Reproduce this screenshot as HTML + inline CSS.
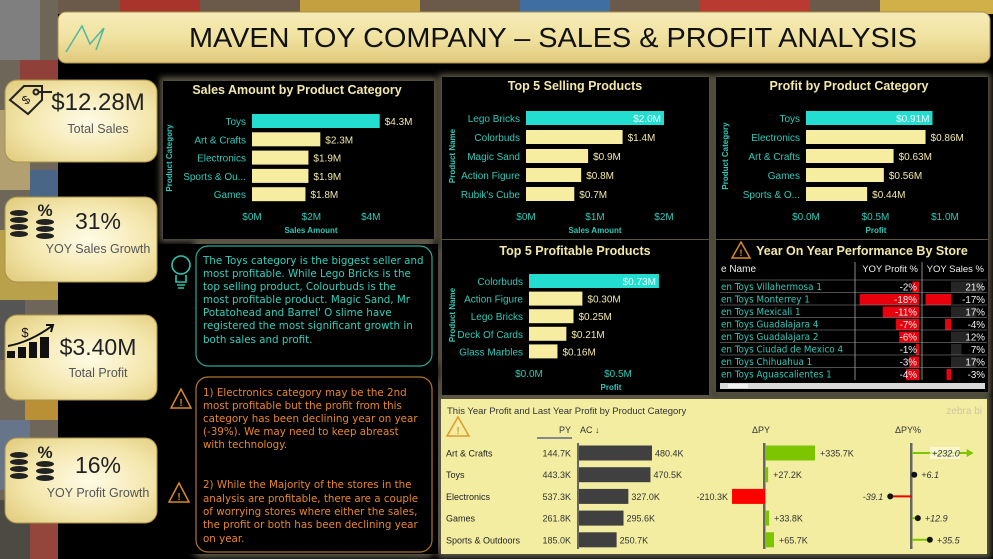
<!DOCTYPE html>
<html><head><meta charset="utf-8"><style>
html,body{margin:0;padding:0;background:#000;width:993px;height:559px;overflow:hidden}
svg{display:block;font-family:"Liberation Sans Narrow","Liberation Sans",sans-serif}
.t{font-family:"DejaVu Sans",sans-serif;font-size:10.3px}
</style></head><body>
<svg id="s" width="993" height="559" viewBox="0 0 993 559" xmlns="http://www.w3.org/2000/svg">
<defs>
<radialGradient id="card" cx="0.55" cy="0.5" r="0.7"><stop offset="0" stop-color="#fffbe6"/><stop offset="0.6" stop-color="#f3e6ab"/><stop offset="1" stop-color="#e2cd80"/></radialGradient>
<linearGradient id="hdr" x1="0" y1="0" x2="0" y2="1"><stop offset="0" stop-color="#f6ecb8"/><stop offset="0.5" stop-color="#f0e2a0"/><stop offset="1" stop-color="#e0c97c"/></linearGradient>
<filter id="glow" x="-10%" y="-10%" width="120%" height="120%"><feGaussianBlur stdDeviation="3"/></filter>
</defs>
<g>
<rect x="0" y="0" width="993" height="14" fill="#6b5a4a"/>
<rect x="0" y="0" width="58" height="559" fill="#6f665a"/>
<rect x="0" y="0" width="40" height="60" fill="#7f7f7f"/><rect x="20" y="60" width="38" height="50" fill="#8f4038"/>
<rect x="0" y="110" width="30" height="80" fill="#b3a070"/><rect x="30" y="170" width="28" height="60" fill="#4a6686"/>
<rect x="0" y="230" width="58" height="70" fill="#b9a04a"/><rect x="0" y="300" width="25" height="60" fill="#555"/>
<rect x="25" y="340" width="33" height="80" fill="#b99035"/><rect x="0" y="420" width="30" height="70" fill="#66758a"/>
<rect x="30" y="480" width="28" height="79" fill="#94463c"/><rect x="0" y="500" width="30" height="59" fill="#4d4a44"/>
<rect x="120" y="0" width="80" height="14" fill="#a8342c"/><rect x="300" y="0" width="120" height="14" fill="#c4a040"/>
<rect x="520" y="0" width="90" height="14" fill="#3f6fa0"/><rect x="700" y="0" width="110" height="14" fill="#b83a30"/>
<rect x="880" y="0" width="113" height="14" fill="#d1b04a"/>
</g>
<g>
<rect x="58" y="12" width="932" height="51" rx="8" fill="url(#hdr)" stroke="#a8924e"/>
<path d="M66 52 L82 26 L90 44 L104 28 L96 50" fill="none" stroke="#4fb8a0" stroke-width="1.5"/>
<text x="553" y="47" text-anchor="middle" font-family="Liberation Sans, sans-serif" font-size="28" fill="#111" textLength="728" lengthAdjust="spacingAndGlyphs">MAVEN TOY COMPANY – SALES &amp; PROFIT ANALYSIS</text>
</g>
<g filter="url(#glow)" fill="#5a5545">
<rect x="160" y="77" width="277" height="165"/><rect x="439" y="74" width="273" height="168"/><rect x="713" y="74" width="278" height="168"/>
<rect x="439" y="237" width="273" height="161"/><rect x="713" y="237" width="278" height="158"/><rect x="438" y="396" width="553" height="162"/>
<rect x="190" y="240" width="248" height="132" rx="14"/><rect x="190" y="371" width="248" height="187" rx="14"/>
</g>
<g fill="#000">
<rect x="163" y="81" width="271" height="158"/>
<rect x="442" y="77" width="267" height="162"/>
<rect x="716" y="77" width="272" height="162"/>
<rect x="442" y="240" width="267" height="155"/>
<rect x="716" y="240" width="272" height="152"/>
<rect x="160" y="244" width="278" height="310"/>
</g>
<g>
<rect x="5" y="80" width="152" height="82" rx="12" fill="url(#card)" stroke="#a89248"/>
<g fill="none" stroke="#222" stroke-width="2"><path d="M10 100 L24 86 L42 86 L42 100 L28 114 Z"/><circle cx="36" cy="92" r="2.5"/><path d="M38 92 L52 92"/></g>
<text x="26" y="104" font-size="12" fill="#222" text-anchor="middle" transform="rotate(-40 26 100)">$</text>
<text x="98" y="110" text-anchor="middle" font-size="24" fill="#222">$12.28M</text>
<text x="98" y="133" text-anchor="middle" font-size="12.5" fill="#555">Total Sales</text>
</g>
<g>
<rect x="5" y="197" width="152" height="85" rx="12" fill="url(#card)" stroke="#a89248"/>
<g fill="#222"><ellipse cx="19" cy="213" rx="9" ry="3"/><ellipse cx="19" cy="220" rx="9" ry="3"/><ellipse cx="19" cy="227" rx="9" ry="3"/><ellipse cx="19" cy="234" rx="9" ry="3"/><ellipse cx="45" cy="222" rx="9" ry="3"/><ellipse cx="45" cy="229" rx="9" ry="3"/><ellipse cx="45" cy="236" rx="9" ry="3"/></g>
<text x="45" y="216" text-anchor="middle" font-size="17" font-weight="bold" fill="#222">%</text>
<text x="98" y="229" text-anchor="middle" font-size="23" fill="#222">31%</text>
<text x="98" y="253" text-anchor="middle" font-size="12.5" fill="#555">YOY Sales Growth</text>
</g>
<g>
<rect x="5" y="315" width="152" height="85" rx="12" fill="url(#card)" stroke="#a89248"/>
<g fill="#111"><rect x="7" y="351" width="8" height="7"/><rect x="18" y="347" width="8" height="11"/><rect x="29" y="342" width="8" height="16"/><rect x="40" y="337" width="9" height="21"/></g>
<path d="M8 346 Q30 342 52 326" fill="none" stroke="#111" stroke-width="2"/><path d="M46 325 L53 325 L51 332" fill="none" stroke="#111" stroke-width="2"/>
<text x="25" y="337" text-anchor="middle" font-size="13" fill="#111">$</text>
<text x="98" y="355" text-anchor="middle" font-size="23" fill="#222">$3.40M</text>
<text x="98" y="377" text-anchor="middle" font-size="12.5" fill="#555">Total Profit</text>
</g>
<g>
<rect x="5" y="438" width="152" height="85" rx="12" fill="url(#card)" stroke="#a89248"/>
<g fill="#222"><ellipse cx="19" cy="455" rx="9" ry="3"/><ellipse cx="19" cy="462" rx="9" ry="3"/><ellipse cx="19" cy="469" rx="9" ry="3"/><ellipse cx="19" cy="476" rx="9" ry="3"/><ellipse cx="45" cy="464" rx="9" ry="3"/><ellipse cx="45" cy="471" rx="9" ry="3"/><ellipse cx="45" cy="478" rx="9" ry="3"/></g>
<text x="45" y="458" text-anchor="middle" font-size="17" font-weight="bold" fill="#222">%</text>
<text x="98" y="473" text-anchor="middle" font-size="23" fill="#222">16%</text>
<text x="98" y="497" text-anchor="middle" font-size="12.5" fill="#555">YOY Profit Growth</text>
</g>
<g>
<rect x="196" y="246" width="236" height="120" rx="12" fill="#000" stroke="#2aa898" stroke-width="1.2"/>
<g fill="none" stroke="#2cc4b0" stroke-width="1.6"><circle cx="181" cy="265" r="9"/><path d="M176 275 L176 282 L186 282 L186 275"/><path d="M177 285 L185 285 M178 288 L184 288"/></g>
<g class="t" fill="#2fd0bd">
<text x="203" y="264">The Toys category is the biggest seller and</text>
<text x="203" y="277">most profitable. While Lego Bricks is the</text>
<text x="203" y="290">top selling product, Colourbuds is the</text>
<text x="203" y="303">most profitable product. Magic Sand, Mr</text>
<text x="203" y="316">Potatohead and Barrel' O slime have</text>
<text x="203" y="329">registered the most significant growth in</text>
<text x="203" y="343">both sales and profit.</text>
</g></g>
<g>
<rect x="196" y="377" width="236" height="175" rx="12" fill="#000" stroke="#b0742a" stroke-width="1.2"/>
<g fill="none" stroke="#d88b24" stroke-width="1.5"><path d="M181 389 L191 408 L171 408 Z"/><path d="M179 483 L189 502 L169 502 Z"/></g>
<g fill="#d88b24" font-size="10" font-weight="bold" text-anchor="middle"><text x="181" y="406">!</text><text x="179" y="500">!</text></g>
<g class="t" fill="#e8862a">
<text x="203" y="396">1) Electronics category may be the 2nd</text>
<text x="203" y="409">most profitable but the profit from this</text>
<text x="203" y="422">category has been declining year on year</text>
<text x="203" y="435">(-39%). We may need to keep abreast</text>
<text x="203" y="448">with technology.</text>
<text x="203" y="488">2) While the Majority of the stores in the</text>
<text x="203" y="502">analysis are profitable, there are a couple</text>
<text x="203" y="515">of worrying stores where either the sales,</text>
<text x="203" y="528">the profit or both has been declining year</text>
<text x="203" y="542">on year.</text>
</g></g>
<g font-weight="bold" font-size="12.5" fill="#f2e8a8" text-anchor="middle" font-family="Liberation Sans, sans-serif">
<text x="297" y="94">Sales Amount by Product Category</text>
<text x="575" y="90">Top 5 Selling Products</text>
<text x="849" y="90">Profit by Product Category</text>
<text x="575" y="255">Top 5 Profitable Products</text>
<text x="862" y="255">Year On Year Performance By Store</text>
</g>
<g><path d="M741 242 L750 258 L732 258 Z" fill="none" stroke="#d88b24" stroke-width="1.5"/><text x="741" y="256" text-anchor="middle" font-size="9" font-weight="bold" fill="#d88b24">!</text></g>
<g id="charts"></g>
<g>
<rect x="441" y="399" width="546" height="155" fill="#f3eda2"/>
<text x="447" y="414" font-size="9.5" font-family="Liberation Sans, sans-serif" fill="#333">This Year Profit and Last Year Profit by Product Category</text>
<text x="982" y="414" text-anchor="end" font-size="10" fill="#ccc6a0">zebra bi</text>
<path d="M458 417 L469 436 L447 436 Z" fill="none" stroke="#e09a30" stroke-width="1.5"/><text x="458" y="434" text-anchor="middle" font-size="10" font-weight="bold" fill="#e09a30">!</text>
<g font-size="9" fill="#333" font-family="Liberation Sans, sans-serif"><text x="571" y="433" text-anchor="end">PY</text><text x="580" y="433">AC ↓</text><text x="752" y="433">ΔPY</text><text x="895" y="433">ΔPY%</text></g>
<rect x="537" y="437" width="35" height="2" fill="#888"/>
</g>
<g id="zebra"></g>
</svg>
<script>
const NS='http://www.w3.org/2000/svg';
const salesCats=['Toys','Art & Crafts','Electronics','Sports & Ou...','Games'];
const salesVals=[4.3,2.3,1.9,1.9,1.8];
const salesTicks=[0,2,4];
const topSellNames=['Lego Bricks','Colorbuds','Magic Sand','Action Figure','Rubik\'s Cube'];
const topSellVals=[2.0,1.4,0.9,0.8,0.7];
const topSellTicks=[0,1,2];
const profitCats=['Toys','Electronics','Art & Crafts','Games','Sports & O...'];
const profitVals=[0.91,0.86,0.63,0.56,0.44];
const profitTicks=[0,0.5,1.0];
const topProfNames=['Colorbuds','Action Figure','Lego Bricks','Deck Of Cards','Glass Marbles'];
const topProfVals=[0.73,0.30,0.25,0.21,0.16];
const topProfTicks=[0,0.5];
const storeNames=['en Toys Villahermosa 1','en Toys Monterrey 1','en Toys Mexicali 1','en Toys Guadalajara 4','en Toys Guadalajara 2','en Toys Ciudad de Mexico 4','en Toys Chihuahua 1','en Toys Aguascalientes 1'];
const storeProfitPct=[-2,-18,-11,-7,-6,-1,-3,-4];
const storeSalesPct=[21,-17,17,-4,12,7,17,-3];
const zCats=['Art & Crafts','Toys','Electronics','Games','Sports & Outdoors'];
const zPY=[144.7,443.3,537.3,261.8,185.0];
const zAC=[480.4,470.5,327.0,295.6,250.7];

function mk(tag,attrs,parent,txt){const e=document.createElementNS(NS,tag);for(const k in attrs)e.setAttribute(k,attrs[k]);if(txt!==undefined)e.textContent=txt;parent.appendChild(e);return e;}
const C=document.getElementById('charts');
function hbar(o){
  const g=mk('g',{},C);
  
  
  const sx=v=>o.x0+v*o.k;
  const sy=i=>o.y0+i*o.pitch;
  o.cats.forEach((c,i)=>{
    const yc=sy(i);
    const lb=mk('text',{x:o.x0-6,y:yc+4,'text-anchor':'end','font-size':10,fill:'#2fc9b8'},g,c);
    
    
    const w=sx(o.vals[i])-o.x0;
    const b=mk('rect',{x:o.x0,y:yc-7,width:w,height:14,fill:i===0?'#22ddd0':'#f6eda0'},g);
    
    
    const txt=o.fmt(o.vals[i]);
    if(i===0&&o.inside){mk('text',{x:sx(o.vals[i])-3,y:yc+4,'text-anchor':'end','font-size':10,fill:'#eafffc'},g,txt);}
    else mk('text',{x:sx(o.vals[i])+5,y:yc+4,'font-size':10,fill:'#f2e8a8'},g,txt);
  });
  o.ticks.forEach(t=>{const e=mk('text',{x:sx(t),y:o.ty,'text-anchor':'middle','font-size':10,fill:'#2fc9b8'},g,o.tfmt(t));
    
    });
  const at=mk('text',{x:o.axX,y:o.ty+13,'text-anchor':'middle','font-size':8,'font-weight':'bold',fill:'#2fc9b8'},g,o.xTitle);
  
  
  const yt=mk('text',{x:o.yTx,y:o.yTy,'text-anchor':'middle','font-size':8,'font-weight':'bold',fill:'#2fc9b8',transform:`rotate(-90 ${o.yTx} ${o.yTy})`},g,o.yTitle);
  
  
}
hbar({name:'sales-category-chart',cats:salesCats,vals:salesVals,ticks:salesTicks,x0:252,k:29.7,y0:121,pitch:18.3,ty:220,axX:311,xTitle:'Sales Amount',yTitle:'Product Category',yTx:172,yTy:158,fmt:v=>'$'+v.toFixed(1)+'M',tfmt:t=>'$'+t+'M'});
hbar({name:'top-selling-chart',cats:topSellNames,vals:topSellVals,ticks:topSellTicks,x0:526,k:69,y0:118,pitch:19,ty:220,axX:595,xTitle:'Sales Amount',yTitle:'Product Name',yTx:455,yTy:156,inside:true,fmt:v=>'$'+v.toFixed(1)+'M',tfmt:t=>'$'+t+'M'});
hbar({name:'profit-category-chart',cats:profitCats,vals:profitVals,ticks:profitTicks,x0:806,k:139,y0:118,pitch:19,ty:220,axX:876,xTitle:'Profit',yTitle:'Product Category',yTx:728,yTy:156,inside:true,fmt:v=>'$'+v.toFixed(2)+'M',tfmt:t=>'$'+t.toFixed(1)+'M'});
hbar({name:'top-profitable-chart',cats:topProfNames,vals:topProfVals,ticks:topProfTicks,x0:529,k:178,y0:281,pitch:17.6,ty:377,axX:611,xTitle:'Profit',yTitle:'Product Name',yTx:455,yTy:315,inside:true,fmt:v=>'$'+v.toFixed(2)+'M',tfmt:t=>'$'+t.toFixed(1)+'M'});

(function(){
  const g=mk('g',{},C);
  
  
  mk('text',{x:721,y:272,'font-size':10,fill:'#eee','font-family':'Liberation Sans, sans-serif'},g,'e Name');
  mk('text',{x:918,y:272,'text-anchor':'end','font-size':9.5,fill:'#eee','font-family':'Liberation Sans, sans-serif'},g,'YOY Profit %');
  mk('text',{x:984,y:272,'text-anchor':'end','font-size':9.5,fill:'#eee','font-family':'Liberation Sans, sans-serif'},g,'YOY Sales %');
  mk('line',{x1:855,y1:262,x2:855,y2:380,stroke:'#888'},g);
  mk('line',{x1:922,y1:262,x2:922,y2:380,stroke:'#888'},g);
  const px=v=>919+v*3.3, sx=v=>951+v*1.5;
  storeNames.forEach((n,i)=>{
    const y=281+i*12.5;
    mk('line',{x1:720,y1:y-1,x2:987,y2:y-1,stroke:'#999','stroke-width':0.6},g);
    const nm=mk('text',{x:721,y:y+9,'font-size':9.8,fill:'#2fc9b8','font-family':'DejaVu Sans Condensed, DejaVu Sans, sans-serif'},g,n);
    
    
    const p=storeProfitPct[i];
    const pb=mk('rect',{x:Math.min(px(p),919),y:y+0.5,width:Math.abs(px(p)-919),height:11,fill:'#e8000c'},g);
    
    
    mk('text',{x:917,y:y+9.5,'text-anchor':'end','font-size':9.8,fill:'#f2f2f2','font-family':'Liberation Sans, sans-serif'},g,p+'%');
    const s=storeSalesPct[i];
    const sb=mk('rect',{x:Math.min(sx(s),951),y:y+0.5,width:Math.abs(sx(s)-951),height:11,fill:s<0?'#e8000c':'#262626'},g);
    
    
    mk('text',{x:985,y:y+9.5,'text-anchor':'end','font-size':9.8,fill:'#f2f2f2','font-family':'Liberation Sans, sans-serif'},g,s+'%');
  });
  const sb=mk('rect',{x:720,y:383,width:265,height:6,fill:'#d8d8d8'},g);
  
  
  mk('rect',{x:728,y:384,width:20,height:4,fill:'#f0f0f0'},g);
})();

(function(){
  const g=document.getElementById('zebra');
  const ax=v=>578+v*0.154, dx=v=>764+v*0.152, pctX=v=>911+Math.max(-60,Math.min(105,v))*0.53;
  const F='Liberation Sans, sans-serif';
  mk('rect',{x:577,y:443,width:2,height:106,fill:'#666'},g);
  mk('rect',{x:763,y:443,width:2.5,height:106,fill:'#666'},g);
  mk('rect',{x:910,y:443,width:2.5,height:106,fill:'#666'},g);
  zCats.forEach((c,i)=>{
    const y=453+i*21.7;
    mk('text',{x:446,y:y+3.5,'font-size':9,fill:'#222','font-family':F},g,c);
    mk('text',{x:571,y:y+3.5,'text-anchor':'end','font-size':9,fill:'#333','font-family':F},g,zPY[i].toFixed(1)+'K');
    const b=mk('rect',{x:579,y:y-7.5,width:ax(zAC[i])-579,height:15,fill:'#404040'},g);
    
    
    mk('text',{x:ax(zAC[i])+3,y:y+3.5,'font-size':9,fill:'#333','font-family':F},g,zAC[i].toFixed(1)+'K');
    const d=zAC[i]-zPY[i];
    const db=mk('rect',{x:Math.min(dx(d),765),y:y-7.5,width:Math.abs(dx(d)-765),height:15,fill:d<0?'#ff0000':'#7dc500'},g);
    
    
    const dl=(d>=0?'+':'')+d.toFixed(1)+'K';
    if(d>=0) mk('text',{x:dx(d)+5,y:y+3.5,'font-size':9,fill:'#333','font-family':F},g,dl);
    else mk('text',{x:dx(d)-4,y:y+3.5,'text-anchor':'end','font-size':9,fill:'#333','font-family':F},g,dl);
    const p=d/zPY[i]*100, xx=pctX(p);
    const ln=mk('line',{x1:912,y1:y,x2:xx,y2:y,stroke:p<0?'#e00':'#7dc500','stroke-width':2},g);
    
    
    const pl=(p>=0?'+':'')+p.toFixed(1);
    if(p>105){mk('path',{d:`M${xx} ${y-4} L${xx+7} ${y} L${xx} ${y+4} Z`,fill:'#7dc500'},g);
      mk('rect',{x:930,y:y-6,width:30,height:12,fill:'#fffbe0',opacity:0.7},g);
      mk('text',{x:932,y:y+3.5,'font-size':9,'font-style':'italic',fill:'#333','font-family':F},g,pl);}
    else{mk('circle',{cx:xx,cy:y,r:3,fill:'#111'},g);
      if(p>=0) mk('text',{x:xx+7,y:y+3.5,'font-size':9,'font-style':'italic',fill:'#333','font-family':F},g,pl);
      else mk('text',{x:xx-7,y:y+3.5,'text-anchor':'end','font-size':9,'font-style':'italic',fill:'#333','font-family':F},g,pl);}
  });
})();
</script>
</body></html>
